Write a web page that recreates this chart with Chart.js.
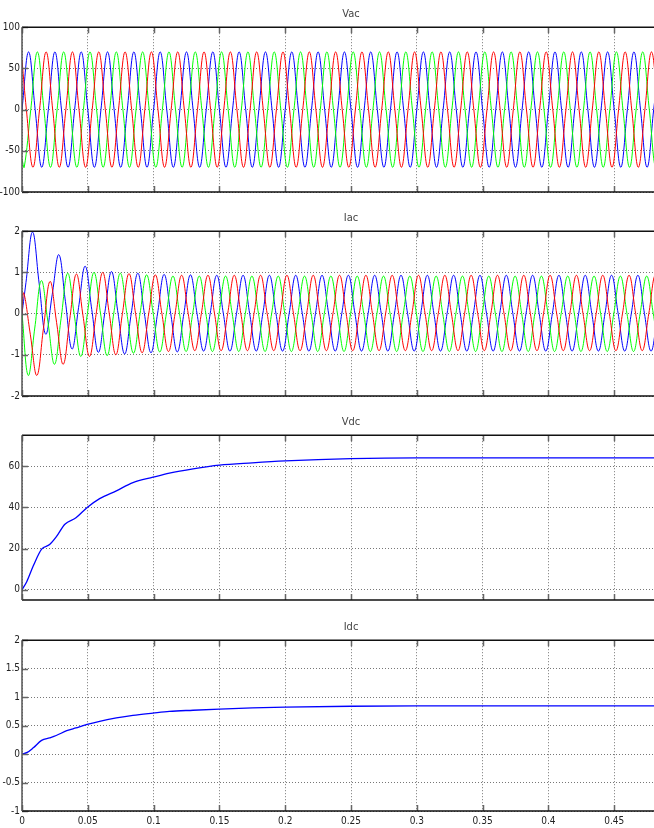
<!DOCTYPE html>
<html><head><meta charset="utf-8">
<script src="https://cdn.jsdelivr.net/npm/chart.js@4.4.0/dist/chart.umd.min.js"></script>
<style>
html,body{margin:0;padding:0;background:#fff;width:654px;height:828px;overflow:hidden;position:relative}
canvas{position:absolute;left:0}
</style></head><body>
<canvas id="c1" width="680" height="200" style="top:0px"></canvas>
<canvas id="c2" width="680" height="200" style="top:204px"></canvas>
<canvas id="c3" width="680" height="200" style="top:408px"></canvas>
<canvas id="c4" width="680" height="215" style="top:613px"></canvas>
<script>
// ---------- axes / ticks ----------
const xTicks = [0,0.05,0.1,0.15,0.2,0.25,0.3,0.35,0.4,0.45];
const xTickLabels = ['0','0.05','0.1','0.15','0.2','0.25','0.3','0.35','0.4','0.45'];
const vacTicks = [-100,-50,0,50,100];
const vacTickLabels = ['-100','-50','0','50','100'];
const iacTicks = [-2,-1,0,1,2];
const iacTickLabels = ['-2','-1','0','1','2'];
const vdcTicks = [0,20,40,60];
const vdcTickLabels = ['0','20','40','60'];
const idcTicks = [-1,-0.5,0,0.5,1,1.5,2];
const idcTickLabels = ['-1','-0.5','0','0.5','1','1.5','2'];
const titles = ['Vac','Iac','Vdc','Idc'];

// ---------- AC waveforms: samples every quarter period (5 ms) ----------
const acStep = 0.005;
const vacBlueStart = 0, vacRedStart = 0.00333, vacGreenStart = 0.00167;
const vacRedAt0 = 60, vacGreenAt0 = -60;
const vacBlue = [
0,70,0,-70, 0,70,0,-70, 0,70,0,-70, 0,70,0,-70, 0,70,0,-70, 0,70,0,-70,
0,70,0,-70, 0,70,0,-70, 0,70,0,-70, 0,70,0,-70, 0,70,0,-70, 0,70,0,-70,
0,70,0,-70, 0,70,0,-70, 0,70,0,-70, 0,70,0,-70, 0,70,0,-70, 0,70,0,-70,
0,70,0,-70, 0,70,0,-70, 0,70,0,-70, 0,70,0,-70, 0,70,0,-70, 0,70,0,-70,
0,70];
const vacRed = [
0,-70,0,70, 0,-70,0,70, 0,-70,0,70, 0,-70,0,70, 0,-70,0,70, 0,-70,0,70,
0,-70,0,70, 0,-70,0,70, 0,-70,0,70, 0,-70,0,70, 0,-70,0,70, 0,-70,0,70,
0,-70,0,70, 0,-70,0,70, 0,-70,0,70, 0,-70,0,70, 0,-70,0,70, 0,-70,0,70,
0,-70,0,70, 0,-70,0,70, 0,-70,0,70, 0,-70,0,70, 0,-70,0,70, 0,-70,0,70,
0,-70];
const vacGreen = [
-70,0,70,0, -70,0,70,0, -70,0,70,0, -70,0,70,0, -70,0,70,0, -70,0,70,0,
-70,0,70,0, -70,0,70,0, -70,0,70,0, -70,0,70,0, -70,0,70,0, -70,0,70,0,
-70,0,70,0, -70,0,70,0, -70,0,70,0, -70,0,70,0, -70,0,70,0, -70,0,70,0,
-70,0,70,0, -70,0,70,0, -70,0,70,0, -70,0,70,0, -70,0,70,0, -70,0,70,0,
-70,0];

const iacBlueStart = 0.003, iacRedStart = 0.0013, iacGreenStart = 0.0047;
const iacAt0 = 0;
const iacBlue = [
0.75,1.98,0.74,-0.5, 0.47,1.43,0.29,-0.86, 0.15,1.15,0.1,-0.94, 0.04,1.02,0,-0.98,
0,0.98,0,-0.95, 0,0.95,0,-0.93, 0,0.94,
0,-0.91,0,0.93, 0,-0.91,0,0.93, 0,-0.91,0,0.93, 0,-0.91,0,0.93, 0,-0.91,0,0.93, 0,-0.91,0,0.93,
0,-0.91,0,0.93, 0,-0.91,0,0.93, 0,-0.91,0,0.93, 0,-0.91,0,0.93, 0,-0.91,0,0.93, 0,-0.91,0,0.93,
0,-0.91,0,0.93, 0,-0.91,0,0.93, 0,-0.91,0,0.93, 0,-0.91,0,0.93, 0,-0.91,0,0.93, 0,-0.91,0,0.93];
const iacRed = [
0.5,-0.5,-1.5,-0.36, 0.78,-0.22,-1.23,-0.13, 0.96,-0.04,-1.04,-0.02, 1.0,0,-1.0,0,
0.97,0,-0.95,0, 0.94,0,-0.92,0,
0.93,0,-0.9,0, 0.93,0,-0.9,0, 0.93,0,-0.9,0, 0.93,0,-0.9,0, 0.93,0,-0.9,0, 0.93,0,-0.9,0,
0.93,0,-0.9,0, 0.93,0,-0.9,0, 0.93,0,-0.9,0, 0.93,0,-0.9,0, 0.93,0,-0.9,0, 0.93,0,-0.9,0,
0.93,0,-0.9,0, 0.93,0,-0.9,0, 0.93,0,-0.9,0, 0.93,0,-0.9,0, 0.93,0,-0.9,0, 0.93,0,-0.9,0,
0.93,0];
const iacGreen = [
-1.5,-0.35,0.8,-0.2, -1.23,-0.12,0.98,-0.03, -1.04,0,1.0,0, -1.02,0,0.98,0,
-0.96,0,0.94,0, -0.93,0,
0.91,0,-0.92,0, 0.91,0,-0.92,0, 0.91,0,-0.92,0, 0.91,0,-0.92,0, 0.91,0,-0.92,0, 0.91,0,-0.92,0,
0.91,0,-0.92,0, 0.91,0,-0.92,0, 0.91,0,-0.92,0, 0.91,0,-0.92,0, 0.91,0,-0.92,0, 0.91,0,-0.92,0,
0.91,0,-0.92,0, 0.91,0,-0.92,0, 0.91,0,-0.92,0, 0.91,0,-0.92,0, 0.91,0,-0.92,0, 0.91,0,-0.92,0,
0.91,0,-0.92,0];

// ---------- DC quantities ----------
const vdcT = [0,0.0036,0.0086,0.0149,0.021,0.026,0.0326,0.041,0.0495,0.059,0.0717,0.0843,0.0995,0.112,0.13,0.15,0.175,0.2,0.25,0.3,0.35,0.4,0.45,0.5];
const vdcV = [0,3.9,11.6,19.7,21.9,25.6,31.8,34.9,39.9,44.2,48,52,54.6,56.6,58.7,60.5,61.6,62.5,63.6,64,64,64,64,64];
const idcT = [0,0.004,0.0086,0.0149,0.021,0.026,0.034,0.041,0.0495,0.059,0.0717,0.0843,0.0995,0.112,0.13,0.15,0.175,0.2,0.25,0.3,0.35,0.4,0.45,0.5];
const idcV = [0,0.03,0.11,0.24,0.285,0.326,0.41,0.46,0.52,0.576,0.634,0.68,0.72,0.75,0.77,0.79,0.81,0.825,0.84,0.845,0.845,0.845,0.845,0.845];

const xMin = 0, xMax = 0.5;

// ---------- helpers ----------
function gridSeries(start, vals, first){
  const pts = (first === undefined) ? [] : [{x:0, y:first}];
  vals.forEach((v,k)=>pts.push({x:start + k*acStep, y:v}));
  return pts;
}
function pairSeries(ts, vs){ return ts.map((t,i)=>({x:t, y:vs[i]})); }

const FONT = "'Liberation Sans Narrow','DejaVu Sans Condensed','Arial Narrow',sans-serif";

const framePlugin = {
  id:'frame',
  afterDraw(chart){
    const {ctx, chartArea:a, scales:{x, y}} = chart;
    ctx.save();
    ctx.strokeStyle = '#666'; ctx.lineWidth = 1.5;
    x.ticks.forEach(t=>{
      const px = Math.round(x.getPixelForValue(t.value)) + 0.5;
      ctx.beginPath();
      ctx.moveTo(px, a.top); ctx.lineTo(px, a.top + 6);
      ctx.moveTo(px, a.bottom); ctx.lineTo(px, a.bottom - 6);
      ctx.stroke();
    });
    y.ticks.forEach(t=>{
      const py = Math.round(y.getPixelForValue(t.value)) + 0.5;
      ctx.beginPath(); ctx.moveTo(a.left, py); ctx.lineTo(a.left + 6, py); ctx.stroke();
    });
    ctx.lineWidth = 1.5;
    ctx.strokeStyle = '#111';
    ctx.beginPath();
    ctx.moveTo(a.left, a.top); ctx.lineTo(a.right, a.top);
    ctx.moveTo(a.left, a.bottom); ctx.lineTo(a.right, a.bottom);
    ctx.stroke();
    ctx.strokeStyle = '#555';
    ctx.beginPath(); ctx.moveTo(a.left, a.top); ctx.lineTo(a.left, a.bottom); ctx.stroke();
    ctx.restore();
  }
};

function makeChart(id, title, datasets, yMin, yMax, yTicks, yLabels, showX, padBottom){
  new Chart(document.getElementById(id), {
    type:'line',
    data:{datasets},
    options:{
      responsive:false, animation:false, events:[],
      layout:{padding:{left:0, right:0, top:0, bottom:padBottom}},
      elements:{point:{radius:0}},
      plugins:{
        legend:{display:false}, tooltip:{enabled:false},
        title:{display:true, text:title, fullSize:false, color:'#444',
               font:{family:FONT, size:11, weight:'normal'}, padding:{top:8, bottom:6}}
      },
      scales:{
        x:{type:'linear', min:xMin, max:xMax,
           afterBuildTicks:s=>{ s.ticks = xTicks.map(v=>({value:v})); },
           afterFit:s=>{ s.height = showX ? 17 : 0; },
           grid:{color:'#777', lineWidth:1, drawTicks:false},
           border:{display:false, dash:[1,2]},
           ticks:{display:showX, autoSkip:false, maxRotation:0, padding:4, color:'#222',
                  font:{family:FONT, size:10},
                  callback:(v,i)=>xTickLabels[i]}},
        y:{type:'linear', min:yMin, max:yMax,
           afterBuildTicks:s=>{ s.ticks = yTicks.map(v=>({value:v})); },
           afterFit:s=>{ s.width = 22; },
           grid:{color:'#777', lineWidth:1, drawTicks:false},
           border:{display:false, dash:[1,2]},
           ticks:{autoSkip:false, padding:2, color:'#222',
                  font:{family:FONT, size:10},
                  callback:(v,i)=>yLabels[i]}}
      }
    },
    plugins:[framePlugin]
  });
}

const acStyle = c => ({borderColor:c, borderWidth:1, tension:0.4, fill:false, pointRadius:0});

makeChart('c1', titles[0], [
  Object.assign({data:gridSeries(vacRedStart, vacRed, vacRedAt0)}, acStyle('#ff0000')),
  Object.assign({data:gridSeries(vacGreenStart, vacGreen, vacGreenAt0)}, acStyle('#00ff00')),
  Object.assign({data:gridSeries(vacBlueStart, vacBlue)}, acStyle('#0000ff'))
], -100, 100, vacTicks, vacTickLabels, false, 2);

makeChart('c2', titles[1], [
  Object.assign({data:gridSeries(iacRedStart, iacRed, iacAt0)}, acStyle('#ff0000')),
  Object.assign({data:gridSeries(iacGreenStart, iacGreen, iacAt0)}, acStyle('#00ff00')),
  Object.assign({data:gridSeries(iacBlueStart, iacBlue, iacAt0)}, acStyle('#0000ff'))
], -2, 2, iacTicks, iacTickLabels, false, 2);

makeChart('c3', titles[2], [
  {data:pairSeries(vdcT, vdcV), borderColor:'#0000ff', borderWidth:1.3, cubicInterpolationMode:'monotone', fill:false, pointRadius:0}
], -5, 75, vdcTicks, vdcTickLabels, false, 2);

makeChart('c4', titles[3], [
  {data:pairSeries(idcT, idcV), borderColor:'#0000ff', borderWidth:1.3, cubicInterpolationMode:'monotone', fill:false, pointRadius:0}
], -1, 2, idcTicks, idcTickLabels, true, 0);
</script>
</body></html>
